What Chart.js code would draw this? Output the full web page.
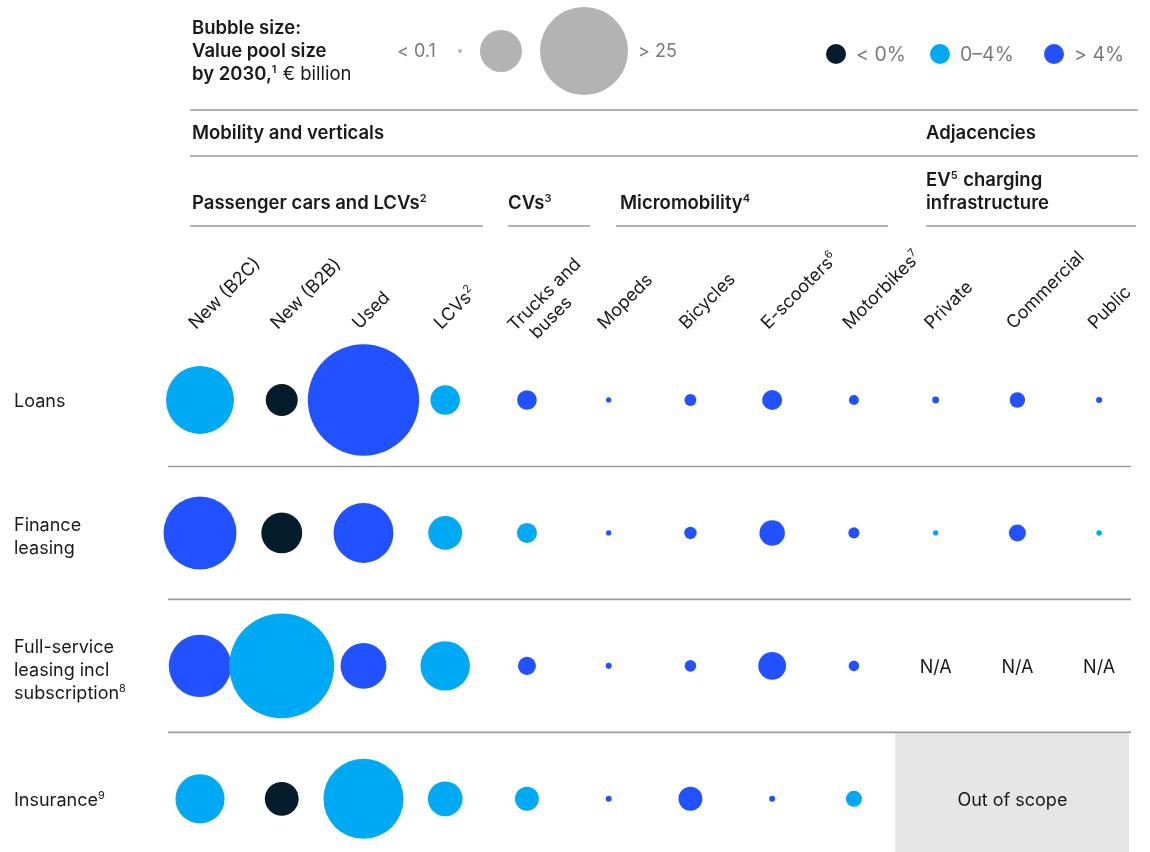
<!DOCTYPE html>
<html>
<head>
<meta charset="utf-8">
<script src="https://cdn.jsdelivr.net/npm/chart.js@4.4.1/dist/chart.umd.min.js"></script>
<style>
  html, body { margin: 0; padding: 0; background: #fff; }
  #wrap { width: 1150px; height: 852px; position: relative; }
</style>
</head>
<body>
<div id="wrap"><canvas id="poolChart" width="1150" height="852"></canvas></div>
<script>
// columns (segments) and rows (products)
const columns = ['New (B2C)', 'New (B2B)', 'Used', 'LCVs', 'Trucks and\nbuses', 'Mopeds', 'Bicycles', 'E-scooters', 'Motorbikes', 'Private', 'Commercial', 'Public'];
const columnNotes = ['', '', '', '2', '', '', '', '6', '7', '', '', ''];
const rows = ['Loans', 'Finance\nleasing', 'Full-service\nleasing incl\nsubscription', 'Insurance'];
const rowNotes = ['', '', '8', '9'];

// value pool size by 2030, € billion (null = N/A or out of scope)
const loans     = [14.9, 3.3, 40.0, 2.8, 1.25, 0.09, 0.46, 1.3, 0.32, 0.15, 0.77, 0.12];
const finance   = [17.2, 5.4, 11.6, 3.7, 1.3, 0.09, 0.5, 2.1, 0.4, 0.09, 0.93, 0.1];
const fullLease = [12.6, 35.5, 6.8, 7.9, 1.05, 0.12, 0.43, 2.5, 0.36, null, null, null];
const insurance = [7.8, 3.7, 20.7, 3.9, 1.85, 0.12, 1.85, 0.12, 0.83, null, null, null];

// growth class per cell: 'neg' < 0%, 'mid' 0-4%, 'high' > 4%
const loansGrowth     = ['mid', 'neg', 'high', 'mid', 'high', 'high', 'high', 'high', 'high', 'high', 'high', 'high'];
const financeGrowth   = ['high', 'neg', 'high', 'mid', 'mid', 'high', 'high', 'high', 'high', 'mid', 'high', 'mid'];
const fullLeaseGrowth = ['high', 'mid', 'high', 'mid', 'high', 'high', 'high', 'high', 'high', null, null, null];
const insuranceGrowth = ['mid', 'neg', 'mid', 'mid', 'mid', 'high', 'high', 'high', 'mid', null, null, null];

const sizeLegend = [0.05, 5.7, 25];
const sizeLegendLabels = ['< 0.1', '> 25'];
const growthLegend = ['< 0%', '0–4%', '> 4%'];

const colors = { neg: '#051c2c', mid: '#00a9f4', high: '#2251ff' };
const FONT = 'Inter, "Noto Sans", sans-serif';
const INK = '#1a1a1a';

function radius(v) { return 8.8 * Math.sqrt(v); }

const allValues = [loans, finance, fullLease, insurance];
const allGrowth = [loansGrowth, financeGrowth, fullLeaseGrowth, insuranceGrowth];

const datasets = allValues.map(function (vals, ri) {
    const pts = [];
    const cols = [];
    vals.forEach(function (v, ci) {
        if (v === null) return;
        pts.push({ x: ci, y: ri, r: radius(v) });
        cols.push(colors[allGrowth[ri][ci]]);
    });
    return {
        label: rows[ri],
        data: pts,
        backgroundColor: cols,
        borderWidth: 0,
        clip: false
    };
});

// text with superscript parts: [text, isSup, weight]
function rich(ctx, x, y, parts, size, weight) {
    let cx = x;
    parts.forEach(function (p) {
        const sup = p[1];
        const w = p[2] || weight;
        const s = sup ? Math.round(size * 0.62) : size;
        ctx.font = w + ' ' + s + 'px ' + FONT;
        ctx.fillText(p[0], cx, sup ? y - size * 0.4 : y);
        cx += ctx.measureText(p[0]).width + (sup ? 1 : 0);
    });
    return cx;
}

function hline(ctx, x0, x1, y) {
    ctx.beginPath();
    ctx.moveTo(x0, y);
    ctx.lineTo(x1, y);
    ctx.stroke();
}

const tablePlugin = {
    id: 'tableDecor',
    beforeDatasetsDraw(chart) {
        const ctx = chart.ctx;
        const xs = chart.scales.x, ys = chart.scales.y;
        ctx.save();
        // out of scope box
        const bx0 = xs.getPixelForValue(8.5) + 0.5;
        const bx1 = xs.getPixelForValue(11.5) - 11;
        const by0 = ys.getPixelForValue(2.5) + 1;
        ctx.fillStyle = '#e6e6e6';
        ctx.fillRect(bx0, by0, bx1 - bx0, chart.height - by0);
        // row dividers
        ctx.strokeStyle = '#9b9b9b';
        ctx.lineWidth = 1.6;
        [0.5, 1.5, 2.5].forEach(function (v) {
            hline(ctx, 168, 1131, ys.getPixelForValue(v));
        });
        ctx.restore();
    },
    afterDraw(chart) {
        const ctx = chart.ctx;
        const xs = chart.scales.x, ys = chart.scales.y;
        ctx.save();
        ctx.textBaseline = 'alphabetic';
        ctx.textAlign = 'left';

        // size legend
        ctx.fillStyle = INK;
        rich(ctx, 192, 34, [['Bubble size:']], 18.5, '600');
        rich(ctx, 192, 57, [['Value pool size']], 18.5, '600');
        rich(ctx, 192, 80, [['by 2030,'], ['1', true], [' € billion', false, '400']], 18.5, '600');
        ctx.fillStyle = '#7a7a7a';
        ctx.font = '400 18px ' + FONT;
        ctx.fillText(sizeLegendLabels[0], 397, 57);
        ctx.fillText(sizeLegendLabels[1], 638, 57);
        ctx.fillStyle = '#b3b3b3';
        const lx = [460, 501, 584];
        sizeLegend.forEach(function (v, i) {
            ctx.beginPath();
            ctx.arc(lx[i], 51, radius(v), 0, Math.PI * 2);
            ctx.fill();
        });

        // growth legend
        const gx = [836, 940, 1054];
        const gk = ['neg', 'mid', 'high'];
        growthLegend.forEach(function (t, i) {
            ctx.fillStyle = colors[gk[i]];
            ctx.beginPath();
            ctx.arc(gx[i], 54, 10, 0, Math.PI * 2);
            ctx.fill();
            ctx.fillStyle = '#7a7a7a';
            ctx.font = '400 19.5px ' + FONT;
            ctx.fillText(t, gx[i] + 20, 61);
        });

        // header rules
        ctx.strokeStyle = '#9b9b9b';
        ctx.lineWidth = 1.4;
        hline(ctx, 190, 1138, 110);
        hline(ctx, 190, 1138, 156);
        hline(ctx, 190, 483, 226);
        hline(ctx, 508, 590, 226);
        hline(ctx, 616, 888, 226);
        hline(ctx, 926, 1136, 226);

        ctx.fillStyle = INK;
        rich(ctx, 192, 139, [['Mobility and verticals']], 18.5, '600');
        rich(ctx, 926, 139, [['Adjacencies']], 18.5, '600');
        rich(ctx, 926, 186, [['EV'], ['5', true], [' charging']], 18.5, '600');
        rich(ctx, 926, 209, [['infrastructure']], 18.5, '600');
        rich(ctx, 192, 209, [['Passenger cars and LCVs'], ['2', true]], 18.5, '600');
        rich(ctx, 508, 209, [['CVs'], ['3', true]], 18.5, '600');
        rich(ctx, 620, 209, [['Micromobility'], ['4', true]], 18.5, '600');

        // rotated column labels
        columns.forEach(function (c, i) {
            const lines = c.split('\n');
            const px = xs.getPixelForValue(i);
            ctx.save();
            if (lines.length > 1) ctx.translate(px - 12, 332);
            else ctx.translate(px - 4, 330);
            ctx.rotate(-Math.PI / 4);
            lines.forEach(function (ln, k) {
                const parts = [[ln]];
                if (k === lines.length - 1 && columnNotes[i]) parts.push([columnNotes[i], true]);
                rich(ctx, k * 10, k * 21, parts, 18, '400');
            });
            ctx.restore();
        });

        // row labels
        rows.forEach(function (r, i) {
            const lines = r.split('\n');
            const cy = ys.getPixelForValue(i);
            const y0 = cy - (lines.length - 1) * 23 / 2 + 7 + (lines.length > 1 ? 3 : 0);
            lines.forEach(function (ln, k) {
                const parts = [[ln]];
                if (k === lines.length - 1 && rowNotes[i]) parts.push([rowNotes[i], true]);
                rich(ctx, 14, y0 + k * 23, parts, 18, '400');
            });
        });

        // N/A and out of scope
        ctx.font = '400 18px ' + FONT;
        ctx.textAlign = 'center';
        fullLease.forEach(function (v, i) {
            if (v === null) ctx.fillText('N/A', xs.getPixelForValue(i), ys.getPixelForValue(2) + 7);
        });
        ctx.fillText('Out of scope', (xs.getPixelForValue(9) + xs.getPixelForValue(11)) / 2 - 5, ys.getPixelForValue(3) + 7);
        ctx.restore();
    }
};

new Chart(document.getElementById('poolChart'), {
    type: 'bubble',
    data: { datasets: datasets },
    options: {
        responsive: false,
        animation: false,
        events: [],
        layout: { autoPadding: false, padding: { top: 333.5, left: 159.13, right: 10, bottom: 0 } },
        scales: {
            x: { type: 'linear', min: -0.5, max: 11.5, display: false },
            y: { type: 'linear', min: -0.5, max: 3.4, reverse: true, display: false }
        },
        plugins: {
            legend: { display: false },
            tooltip: { enabled: false }
        }
    },
    plugins: [tablePlugin]
});
</script>
</body>
</html>
